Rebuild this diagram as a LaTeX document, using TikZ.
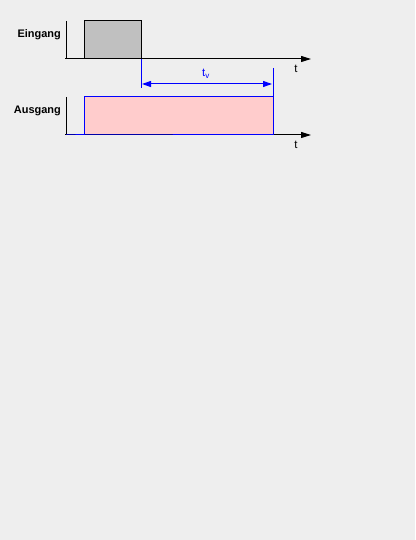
\documentclass[tikz,border=0pt]{standalone}
\usepackage{fontspec}
\setmainfont{Liberation Sans}
\usetikzlibrary{arrows.meta}
\definecolor{bg}{HTML}{EEEEEE}
\definecolor{pulsegray}{HTML}{C0C0C0}
\definecolor{pulsepink}{HTML}{FFCCCC}
\definecolor{sigblue}{HTML}{0000FF}
\begin{document}
\begin{tikzpicture}[x=1bp,y=-1bp,
  axis/.style={draw=black,line width=1bp,-{Triangle[length=10bp,width=6bp]}},
  yaxis/.style={draw=black,line width=1bp},
  siglabel/.style={font=\fontsize{11}{13}\selectfont\bfseries,anchor=base east,inner sep=0pt},
  tlabel/.style={font=\fontsize{11.5}{13}\selectfont,inner sep=0pt},
  bluesig/.style={draw=sigblue,line width=1bp},
  dim/.style={draw=sigblue,line width=1bp,{Triangle[length=9bp,width=6bp]}-{Triangle[length=9bp,width=6bp]}}]
\fill[bg] (0,0) rectangle (415,540);
\useasboundingbox (0,0) rectangle (415,540);
% input
\coordinate (i0) at (65,59);
\coordinate (i1) at (311,59);
\coordinate (iy) at (66,21);
\filldraw[fill=pulsegray,draw=black,line width=1bp] (84,59) rectangle (141,21);
\draw[yaxis] (iy) -- (66,59);
\draw[axis] (i0) -- (i1);
\node[siglabel] (ein) at (61,38) {Eingang};
\node[tlabel] (t1) at (296,69) {t};
% dimension
\coordinate (d0) at (141,59);
\coordinate (d0b) at (141,88);
\coordinate (d1) at (273,68);
\coordinate (d1b) at (273,135);
\draw[bluesig] (d0) -- (d0b);
\draw[dim] (142,84) -- (272,84);
\node[tlabel,text=sigblue] (tv) at (206,74) {t\textsubscript{v}};
% output
\coordinate (o0) at (65,135);
\coordinate (o1) at (311,135);
\coordinate (oy) at (66,97);
\fill[pulsepink] (84,135) rectangle (273,97);
\draw[yaxis] (oy) -- (66,135);
\draw[axis] (o0) -- (o1);
\draw[bluesig] (66,135) -- (84,135) -- (84,97) -- (273,97) -- (273,135) -- cycle;
\draw[bluesig] (d1) -- (d1b);
\node[siglabel] (aus) at (61,114) {Ausgang};
\node[tlabel] (t2) at (296,145) {t};
\end{tikzpicture}
\end{document}
